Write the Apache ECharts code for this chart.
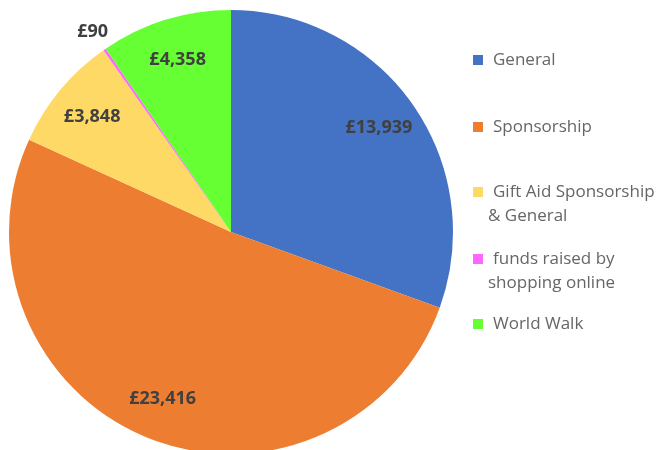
<!doctype html>
<html>
<head>
<meta charset="UTF-8">
<title>Funds raised</title>
<script src="https://cdn.jsdelivr.net/npm/echarts@6/dist/echarts.min.js"></script>
<style>
  html, body { margin: 0; padding: 0; background: #fff; }
  #main { width: 664px; height: 450px; }
</style>
</head>
<body>
<div id="main"></div>
<script type="text/javascript">
// data
var categories = ['General', 'Sponsorship', 'Gift Aid Sponsorship\n& General', 'funds raised by\nshopping online', 'World Walk'];
var values = [13939, 23416, 3848, 90, 4358];
var colours = ['#4472C4', '#ED7D31', '#FFD966', '#FF66FF', '#66FF33'];
var legendTops = [60, 127, 192, 259, 324];

var pieCenter = [231, 232];
var pieRadius = 222;
var legendFont = { color: '#666666', fontSize: 17, fontFamily: 'Open Sans' };

function money(v) {
    return '£' + v.toLocaleString('en-GB');
}

var pieData = [];
for (var i = 0; i < categories.length; i++) {
    pieData.push({ name: categories[i], value: values[i], itemStyle: { color: colours[i] } });
}

// one legend per item so the spacing follows the picture;
// the icon sits on the first line, the rest is drawn as plain text below
var legends = [];
var extraLines = [];
for (var j = 0; j < categories.length; j++) {
    var lines = categories[j].split('\n');
    legends.push({
        data: [categories[j]],
        left: 473,
        top: legendTops[j] - 10,
        itemWidth: 10,
        itemHeight: 10,
        padding: 0,
        icon: 'rect',
        selectedMode: false,
        formatter: function (name) { return name.split('\n')[0]; },
        textStyle: Object.assign({ lineHeight: 20, padding: [0, 0, 0, 5] }, legendFont)
    });
    for (var k = 1; k < lines.length; k++) {
        extraLines.push({
            type: 'text',
            left: 488,
            top: legendTops[j] + 24 * k - 10,
            style: {
                text: lines[k], lineHeight: 20,
                fill: legendFont.color, fontSize: legendFont.fontSize, fontFamily: legendFont.fontFamily
            }
        });
    }
}

var labelStyle = {
    color: '#404040',
    fontSize: 18,
    fontWeight: 'bold',
    fontFamily: 'Open Sans'
};

var option = {
    backgroundColor: '#fff',
    animation: false,
    legend: legends,
    graphic: extraLines,
    series: [
        {
            name: 'funds',
            type: 'pie',
            center: pieCenter,
            radius: [0, pieRadius],
            startAngle: 90,
            clockwise: true,
            label: { show: false },
            labelLine: { show: false },
            emphasis: { disabled: true },
            data: pieData
        },
        {
            // invisible ring used only to place the value labels
            name: 'labels',
            type: 'pie',
            center: pieCenter,
            radius: [pieRadius * 0.6, pieRadius],
            startAngle: 90,
            clockwise: true,
            silent: true,
            itemStyle: { color: 'rgba(0,0,0,0)' },
            label: Object.assign({
                show: true,
                position: 'inside',
                formatter: function (p) { return p.value < 1000 ? '' : money(p.value); }
            }, labelStyle),
            labelLine: { show: false },
            data: pieData.map(function (d) { return { name: d.name, value: d.value }; })
        },
        {
            // ring outside the pie for the small slice label
            name: 'small',
            type: 'pie',
            center: pieCenter,
            radius: [pieRadius, pieRadius + 36],
            startAngle: 90,
            clockwise: true,
            silent: true,
            itemStyle: { color: 'rgba(0,0,0,0)' },
            label: Object.assign({
                show: true,
                position: 'inside',
                formatter: function (p) { return p.value < 1000 ? money(p.value) : ''; }
            }, labelStyle),
            labelLine: { show: false },
            data: pieData.map(function (d) { return { name: d.name, value: d.value }; })
        }
    ]
};

var myChart = echarts.init(document.getElementById('main'));
myChart.setOption(option);
</script>
</body>
</html>
